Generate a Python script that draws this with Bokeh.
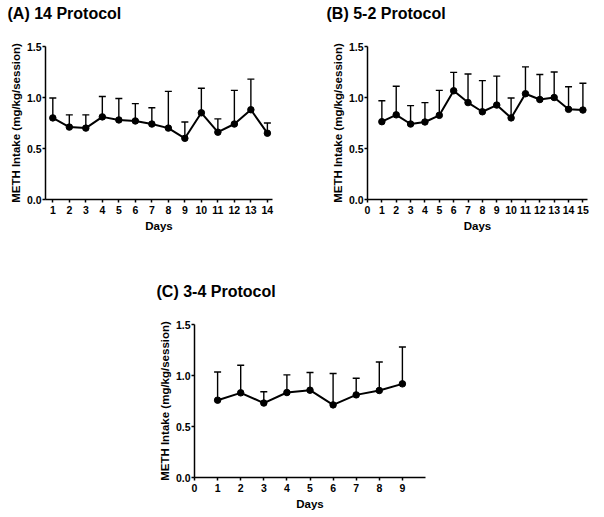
from bokeh.plotting import figure
from bokeh.models import FixedTicker, Range1d, Spacer
from bokeh.layouts import column, row
from bokeh.embed import file_html
from bokeh.resources import INLINE

FONT = "Liberation Sans"

# ---- data ----
y_ticks = [0.0, 0.5, 1.0, 1.5]
y_tick_labels = ["0.0", "0.5", "1.0", "1.5"]
y_label = "METH Intake (mg/kg/session)"
x_label = "Days"

title_a = "(A) 14 Protocol"
days_a = [1, 2, 3, 4, 5, 6, 7, 8, 9, 10, 11, 12, 13, 14]
mean_a = [0.80, 0.71, 0.70, 0.81, 0.78, 0.77, 0.74, 0.70, 0.60, 0.85, 0.66, 0.74, 0.88, 0.65]
sem_a = [0.195, 0.12, 0.13, 0.20, 0.21, 0.17, 0.16, 0.36, 0.16, 0.24, 0.13, 0.33, 0.30, 0.10]
xticks_a = [1, 2, 3, 4, 5, 6, 7, 8, 9, 10, 11, 12, 13, 14]

title_b = "(B) 5-2 Protocol"
days_b = [1, 2, 3, 4, 5, 6, 7, 8, 9, 10, 11, 12, 13, 14, 15]
mean_b = [0.763, 0.83, 0.74, 0.76, 0.825, 1.066, 0.95, 0.86, 0.926, 0.80, 1.037, 0.98, 1.0, 0.884, 0.877]
sem_b = [0.205, 0.28, 0.18, 0.19, 0.245, 0.18, 0.28, 0.305, 0.284, 0.195, 0.263, 0.246, 0.25, 0.221, 0.263]
xticks_b = [0, 1, 2, 3, 4, 5, 6, 7, 8, 9, 10, 11, 12, 13, 14, 15]

title_c = "(C) 3-4 Protocol"
days_c = [1, 2, 3, 4, 5, 6, 7, 8, 9]
mean_c = [0.758, 0.83, 0.73, 0.833, 0.856, 0.712, 0.81, 0.853, 0.918]
sem_c = [0.277, 0.27, 0.11, 0.173, 0.174, 0.308, 0.163, 0.28, 0.362]
xticks_c = [0, 1, 2, 3, 4, 5, 6, 7, 8, 9]


def make_panel(title, days, means, sems, xticks, x_start, x_end, frame_w,
               b_left, b_right, b_top, b_bottom, title_dx, title_standoff):
    p = figure(width=b_left + frame_w + b_right, height=b_top + 153 + b_bottom,
               x_range=Range1d(x_start, x_end), y_range=Range1d(0, 1.5),
               output_backend="svg", toolbar_location=None,
               min_border_left=b_left, min_border_right=b_right,
               min_border_top=b_top, min_border_bottom=b_bottom)
    p.outline_line_color = None
    p.xgrid.visible = False
    p.ygrid.visible = False
    p.background_fill_color = "white"
    p.border_fill_color = "white"

    # second (empty) line keeps the title well above the plot frame
    p.title.text = title + "\n"
    p.title.align = "left"
    p.title.offset = title_dx
    p.title.standoff = title_standoff
    p.title.text_font = FONT
    p.title.text_font_style = "bold"
    p.title.text_font_size = "16px"
    p.title.text_line_height = 1.25
    p.title.text_color = "black"

    for ax in (p.xaxis[0], p.yaxis[0]):
        ax.axis_line_width = 1.5
        ax.axis_line_color = "black"
        ax.major_tick_line_width = 1.5
        ax.major_tick_line_color = "black"
        ax.major_tick_in = 0
        ax.major_tick_out = 3
        ax.minor_tick_line_color = None
        ax.major_label_text_font = FONT
        ax.major_label_text_font_style = "bold"
        ax.major_label_text_font_size = "10.5px"
        ax.major_label_text_color = "black"
        ax.axis_label_text_font = FONT
        ax.axis_label_text_font_style = "bold"
        ax.axis_label_text_font_size = "11.5px"
        ax.axis_label_text_color = "black"

    p.yaxis.ticker = FixedTicker(ticks=y_ticks)
    p.yaxis.major_label_overrides = {t: s for t, s in zip(y_ticks, y_tick_labels)}
    p.yaxis.axis_label = y_label
    p.yaxis.major_label_standoff = 1
    p.yaxis.axis_label_standoff = 2

    p.xaxis.ticker = FixedTicker(ticks=xticks)
    p.xaxis.major_label_overrides = {t: str(t) for t in xticks}
    p.xaxis.axis_label = x_label
    p.xaxis.major_label_standoff = 3
    p.xaxis.axis_label_standoff = 3

    tops = [m + s for m, s in zip(means, sems)]
    p.segment(x0=days, y0=means, x1=days, y1=tops, line_color="black", line_width=1.4)
    p.scatter(x=days, y=tops, marker="dash", size=7, line_color="black", line_width=1.4)
    p.line(x=days, y=means, line_color="black", line_width=2)
    p.scatter(x=days, y=means, marker="circle", size=6.5, fill_color="black", line_color="black")
    return p


pa = make_panel(title_a, days_a, mean_a, sem_a, xticks_a, 0.557, 14.31, 227,
                45, 50, 46, 78, -38, 6)
pb = make_panel(title_b, days_b, mean_b, sem_b, xticks_b, 0.0, 15.32, 220,
                45, 15, 46, 78, -41, 6)
pc = make_panel(title_c, days_c, mean_c, sem_c, xticks_c, 0.0, 10.0, 231,
                45, 10, 47, 36, -38, 7)

layout = column(row(pa, pb), row(Spacer(width=149, height=10), pc))

open("out.html", "w").write(file_html(layout, INLINE))
